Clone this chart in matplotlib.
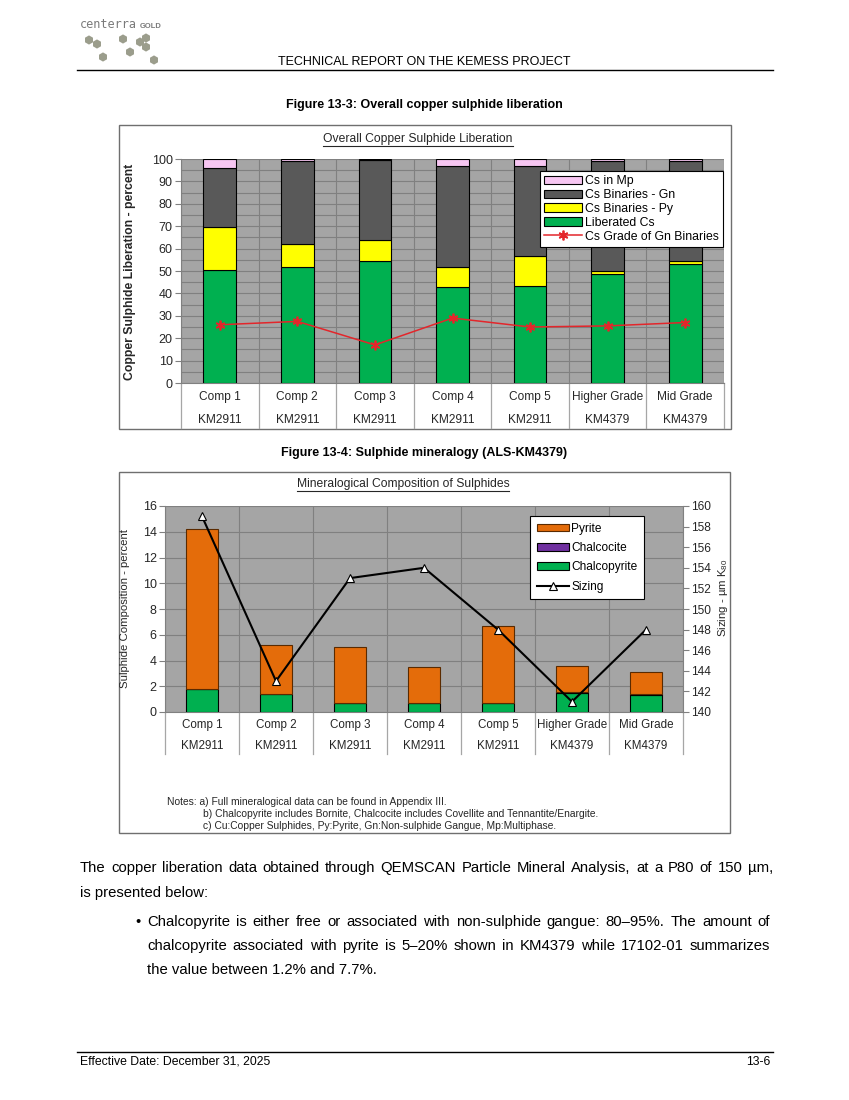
import numpy as np
import matplotlib.pyplot as plt
from matplotlib.patches import Rectangle, RegularPolygon

plt.rcParams['font.family'] = ['Liberation Sans', 'DejaVu Sans']
plt.rcParams['mathtext.fontset'] = 'custom'
plt.rcParams['mathtext.rm'] = 'Liberation Sans'
plt.rcParams['mathtext.it'] = 'Liberation Sans:italic'

W, H = 849, 1100

# ---- Figure 13-3 data (percent of copper sulphide)
samples = ['Comp 1', 'Comp 2', 'Comp 3', 'Comp 4', 'Comp 5', 'Higher Grade', 'Mid Grade']
tests = ['KM2911', 'KM2911', 'KM2911', 'KM2911', 'KM2911', 'KM4379', 'KM4379']
liberated_cs = [50.5, 52.0, 54.5, 43.0, 43.5, 48.5, 53.0]
cs_bin_py = [19.0, 10.0, 9.5, 9.0, 13.0, 1.5, 1.5]
cs_bin_gn = [26.5, 37.0, 35.5, 45.0, 40.5, 49.0, 44.5]
cs_in_mp = [4.0, 1.0, 0.5, 3.0, 3.0, 1.0, 1.0]
cs_grade_gn = [26.0, 27.5, 17.0, 29.0, 25.0, 25.5, 27.0]

# ---- Figure 13-4 data
chalcopyrite = [1.8, 1.4, 0.7, 0.7, 0.7, 1.5, 1.35]
chalcocite = [0.02, 0.02, 0.02, 0.02, 0.02, 0.02, 0.02]
pyrite = [12.4, 3.8, 4.3, 2.75, 5.95, 2.05, 1.75]
sizing = [159, 143, 153, 154, 148, 141, 148]

fig = plt.figure(figsize=(W / 100, H / 100), dpi=100)
page = fig.add_axes([0, 0, 1, 1])
page.set_xlim(0, W)
page.set_ylim(H, 0)
page.axis('off')


def px_axes(x0, y0, x1, y1):
    return fig.add_axes([x0 / W, 1 - y1 / H, (x1 - x0) / W, (y1 - y0) / H])


def category_table(ax, plot_h, row_offsets, line_len, size):
    trans = ax.get_xaxis_transform()
    for i, (s, t) in enumerate(zip(samples, tests)):
        ax.text(i, -row_offsets[0] / plot_h, s, transform=trans, ha='center',
                va='center', fontsize=size, color='#262626')
        ax.text(i, -row_offsets[1] / plot_h, t, transform=trans, ha='center',
                va='center', fontsize=size, color='#262626')
    for k in range(len(samples) + 1):
        ax.plot([k - 0.5, k - 0.5], [0, -line_len / plot_h], transform=trans,
                clip_on=False, color='#a6a6a6', lw=0.9)


def style_plot(ax):
    ax.set_facecolor('#a5a5a5')
    ax.set_xlim(-0.5, len(samples) - 0.5)
    ax.set_xticks(np.arange(-0.5, len(samples), 1))
    ax.tick_params(axis='x', length=0, labelbottom=False)
    ax.grid(True, axis='x', color='#808080', lw=0.8)
    for s in ['top', 'right']:
        ax.spines[s].set_visible(False)
    for s in ['left', 'bottom']:
        ax.spines[s].set_color('#808080')
    ax.set_axisbelow(True)


x = np.arange(len(samples))
bw = 0.42

# ---- page header
page.text(80, 25, 'centerra', fontsize=8.5, color='#7a7a7a', family='DejaVu Sans Mono',
          va='center', ha='left')
page.text(140, 26, 'GOLD', fontsize=5.5, color='#7a7a7a', fontweight='bold',
          va='center', ha='left')
for hx, hy in [(89, 40), (97, 44), (123, 39), (140, 42), (146, 38), (146, 47),
               (130, 52), (103, 57), (154, 60)]:
    page.add_patch(RegularPolygon((hx, hy), 6, radius=4.6, color='#9b9d8c', lw=0))
page.text(424, 62, 'TECHNICAL REPORT ON THE KEMESS PROJECT', fontsize=9,
          ha='center', va='center')
page.plot([77, 773], [70, 70], color='black', lw=1)

page.text(424, 105, 'Figure 13-3: Overall copper sulphide liberation', fontsize=9,
          fontweight='bold', ha='center', va='center')
page.text(424, 453, 'Figure 13-4: Sulphide mineralogy (ALS-KM4379)', fontsize=9,
          fontweight='bold', ha='center', va='center')

# chart frames
page.add_patch(Rectangle((119, 125), 612, 304, fill=False, ec='#6f6f6f', lw=1))
page.add_patch(Rectangle((119, 472), 611, 361, fill=False, ec='#6f6f6f', lw=1))

# ---- chart 1: overall copper sulphide liberation
ax1 = px_axes(181, 159, 724, 383)
style_plot(ax1)
b_lib = ax1.bar(x, liberated_cs, bw, color='#00b050', ec='black', lw=0.8, zorder=3)
bot = np.array(liberated_cs)
b_py = ax1.bar(x, cs_bin_py, bw, bottom=bot, color='#ffff00', ec='black', lw=0.8, zorder=3)
bot = bot + np.array(cs_bin_py)
b_gn = ax1.bar(x, cs_bin_gn, bw, bottom=bot, color='#595959', ec='black', lw=0.8, zorder=3)
bot = bot + np.array(cs_bin_gn)
b_mp = ax1.bar(x, cs_in_mp, bw, bottom=bot, color='#f7c6f2', ec='black', lw=0.8, zorder=3)
l_gr, = ax1.plot(x, cs_grade_gn, color='#e3262b', lw=1.1, marker=(6, 2, 0), ms=7,
                 mew=1.3, zorder=4)
ax1.set_ylim(0, 100)
ax1.set_yticks(np.arange(0, 101, 10))
ax1.set_yticks(np.arange(0, 101, 5), minor=True)
ax1.grid(True, axis='y', which='both', color='#808080', lw=0.8)
ax1.tick_params(axis='y', which='major', length=4, color='#808080', labelsize=9,
                labelcolor='#262626', pad=2)
ax1.tick_params(axis='y', which='minor', length=0)
category_table(ax1, 224, (14, 37), 45, 8.6)
page.text(130, 272, 'Copper Sulphide Liberation - percent', rotation=90, fontsize=8.8,
          fontweight='bold', color='#262626', ha='center', va='center')
t1 = page.text(418, 139, 'Overall Copper Sulphide Liberation', fontsize=8.7,
               color='#262626', ha='center', va='center')
leg1 = ax1.legend([b_mp, b_gn, b_py, b_lib, l_gr],
                  ['Cs in Mp', 'Cs Binaries - Gn', 'Cs Binaries - Py', 'Liberated Cs',
                   'Cs Grade of Gn Binaries'],
                  loc='upper right', bbox_to_anchor=(723 / W, 1 - 171 / H),
                  bbox_transform=fig.transFigure, borderaxespad=0, fontsize=8.8,
                  frameon=True, fancybox=False, framealpha=1, edgecolor='black',
                  labelspacing=0.15, handlelength=3.1, handleheight=0.7,
                  handletextpad=0.25, borderpad=0.35)
leg1.get_frame().set_linewidth(0.8)
leg1.set_zorder(10)

# ---- chart 2: mineralogical composition of sulphides
ax2 = px_axes(165, 506, 683, 712)
style_plot(ax2)
b_cpy = ax2.bar(x, chalcopyrite, bw, color='#00b050', ec='black', lw=0.8, zorder=3)
bot = np.array(chalcopyrite)
b_cc = ax2.bar(x, chalcocite, bw, bottom=bot, color='#7030a0', ec='black', lw=0.8, zorder=3)
bot = bot + np.array(chalcocite)
b_pyr = ax2.bar(x, pyrite, bw, bottom=bot, color='#e46c0a', ec='#5a2a00', lw=0.8, zorder=3)
ax2.set_ylim(0, 16)
ax2.set_yticks(np.arange(0, 17, 2))
ax2.grid(True, axis='y', color='#808080', lw=0.8)
ax2.tick_params(axis='y', length=4, color='#808080', labelsize=9, labelcolor='#262626', pad=2)
category_table(ax2, 206, (13, 34), 42, 8.4)

ax2r = ax2.twinx()
ax2r.set_ylim(140, 160)
ax2r.set_yticks(np.arange(140, 161, 2))
ax2r.tick_params(axis='y', length=4, color='#808080', labelsize=8.6, labelcolor='#262626', pad=2)
for s in ['top', 'left', 'bottom']:
    ax2r.spines[s].set_visible(False)
ax2r.spines['right'].set_color('#808080')
l_sz, = ax2r.plot(x, sizing, color='black', lw=1.5, marker='^', ms=5.5, mfc='white',
                  mec='black', mew=0.8, zorder=5)
page.text(125, 609, 'Sulphide Composition - percent', rotation=90, fontsize=8.2,
          color='#262626', ha='center', va='center')
page.text(723, 598, r'Sizing - µm K$_{80}$', rotation=90, fontsize=8.2,
          color='#262626', ha='center', va='center')
t2 = page.text(403, 484, 'Mineralogical Composition of Sulphides', fontsize=8.7,
               color='#262626', ha='center', va='center')
leg2 = ax2r.legend([b_pyr, b_cc, b_cpy, l_sz], ['Pyrite', 'Chalcocite', 'Chalcopyrite', 'Sizing'],
                   loc='upper right', bbox_to_anchor=(644 / W, 1 - 516 / H),
                   bbox_transform=fig.transFigure, borderaxespad=0, fontsize=8.6,
                   frameon=True, fancybox=False, framealpha=1, edgecolor='black',
                   labelspacing=0.62, handlelength=2.7, handleheight=0.6,
                   handletextpad=0.2, borderpad=0.55)
leg2.get_frame().set_linewidth(0.8)
leg2.set_zorder(10)

notes = ['Notes: a) Full mineralogical data can be found in Appendix III.',
         'b) Chalcopyrite includes Bornite, Chalcocite includes Covellite and Tennantite/Enargite.',
         'c) Cu:Copper Sulphides, Py:Pyrite, Gn:Non-sulphide Gangue, Mp:Multiphase.']
page.text(167, 802, notes[0], fontsize=7.4, color='#262626', va='center')
page.text(203, 814, notes[1], fontsize=7.4, color='#262626', va='center')
page.text(203, 826, notes[2], fontsize=7.4, color='#262626', va='center')

# ---- body text
r = fig.canvas.get_renderer()


def justified(x0, x1, y, line, size):
    words = line.split(' ')
    arts = [page.text(x0, y, w, fontsize=size, va='center') for w in words]
    widths = [a.get_window_extent(r).width for a in arts]
    gap = (x1 - x0 - sum(widths)) / (len(words) - 1)
    pos = x0
    for a, w in zip(arts, widths):
        a.set_x(pos)
        pos += w + gap


body = 10.7
justified(80, 773, 868, 'The copper liberation data obtained through QEMSCAN Particle '
          'Mineral Analysis, at a P80 of 150 µm,', body)
page.text(80, 893, 'is presented below:', fontsize=body, va='center')
page.text(138, 922, '•', fontsize=body, va='center', ha='center')
justified(147, 770, 922, 'Chalcopyrite is either free or associated with non-sulphide '
          'gangue: 80–95%. The amount of', body)
justified(147, 770, 946, 'chalcopyrite associated with pyrite is 5–20% shown in KM4379 '
          'while 17102-01 summarizes', body)
page.text(147, 970, 'the value between 1.2% and 7.7%.', fontsize=body, va='center')

# ---- footer
page.plot([77, 773], [1052, 1052], color='black', lw=1)
page.text(80, 1062, 'Effective Date: December 31, 2025', fontsize=8.8, va='center')
page.text(770, 1062, '13-6', fontsize=8.8, va='center', ha='right')

# underline the chart titles
for t, uy in [(t1, 145.5), (t2, 490.5)]:
    bb = t.get_window_extent(r)
    page.plot([bb.x0, bb.x1], [uy, uy], color='#262626', lw=0.8)

fig.savefig('out.png', dpi=100)
